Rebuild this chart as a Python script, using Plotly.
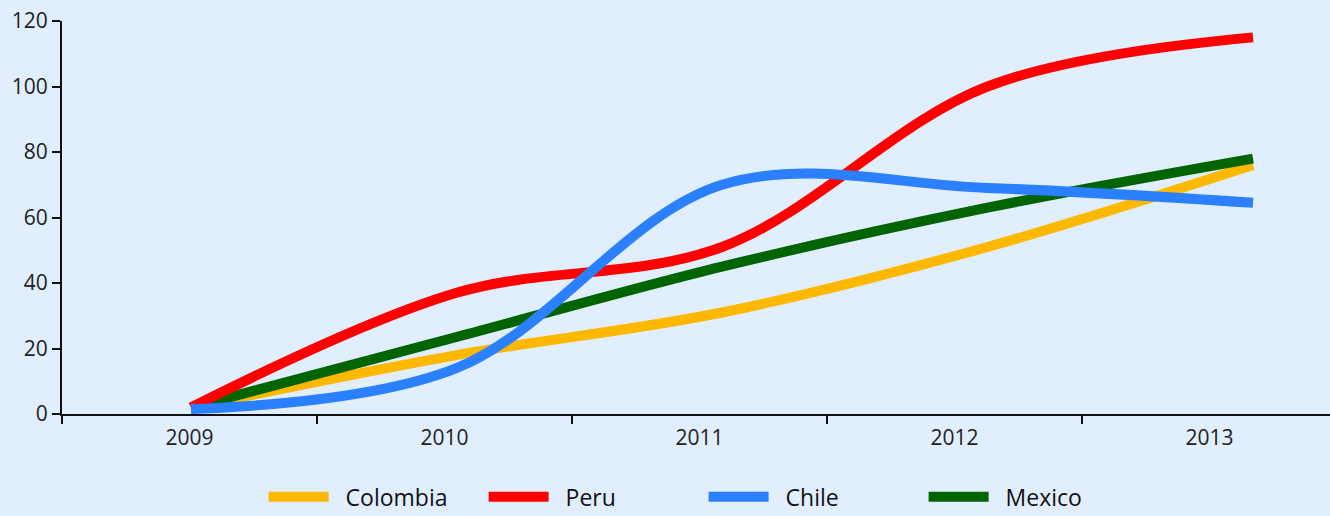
import plotly.graph_objects as go

# data
years = [2009, 2010, 2011, 2012, 2013]
colombia = [2, 18, 31, 51, 76]
peru = [2, 37, 51, 100, 115]
chile = [1.5, 14, 70, 69, 64.5]
mexico = [2, 23.5, 45, 63, 78]

series = [
    ("Colombia", colombia, "#ffb800", 1),
    ("Mexico", mexico, "#006400", 4),
    ("Peru", peru, "#ff0000", 2),
    ("Chile", chile, "#2a80ff", 3),
]

fig = go.Figure()
for name, vals, color, rank in series:
    fig.add_trace(go.Scatter(
        x=years, y=vals, name="  " + name, mode="lines",
        line=dict(color=color, width=10, shape="spline", smoothing=1.0),
        legendrank=rank, xaxis="x", yaxis="y",
    ))

# label axis trace (invisible) so the category-style axis is drawn
fig.add_trace(go.Scatter(x=list(range(len(years))), y=[None] * len(years),
                         xaxis="x2", yaxis="y", showlegend=False,
                         hoverinfo="skip", mode="lines"))

bg = "#e0eefd"
fig.update_layout(
    width=1330, height=516,
    margin=dict(l=62, r=0, t=21, b=102, autoexpand=False),
    paper_bgcolor=bg, plot_bgcolor=bg,
    font=dict(family="Open Sans", color="#222222"),
    showlegend=True,
    legend=dict(orientation="h", x=0.506, xanchor="center", y=-0.211, yanchor="middle",
                font=dict(size=23, color="#111111"), bgcolor="rgba(0,0,0,0)",
                itemwidth=60, entrywidth=145, entrywidthmode="pixels",
                traceorder="normal"),
    xaxis=dict(range=[2008.5141, 2013.29], visible=False, fixedrange=True),
    xaxis2=dict(overlaying="x", side="bottom", anchor="y",
                range=[-0.5, 4.4725],
                tickvals=list(range(len(years))), ticktext=[str(y) for y in years],
                ticks="", showgrid=False, zeroline=False,
                showline=True, linecolor="#111111", linewidth=2,
                tickfont=dict(size=21, color="#222222"), ticklabelstandoff=4,
                minor=dict(tickvals=[-0.5, 0.5, 1.5, 2.5, 3.5], ticks="outside",
                           ticklen=8, tickwidth=2, tickcolor="#111111", showgrid=False)),
    yaxis=dict(range=[0, 120], dtick=20, ticks="outside", ticklen=8, tickwidth=2,
               tickcolor="#111111", showline=True, linecolor="#111111", linewidth=2,
               showgrid=False, zeroline=False, tickfont=dict(size=21, color="#222222")),
)

fig.write_html("out.html", post_script="document.body.style.margin='0';",
               config={"displayModeBar": False})
